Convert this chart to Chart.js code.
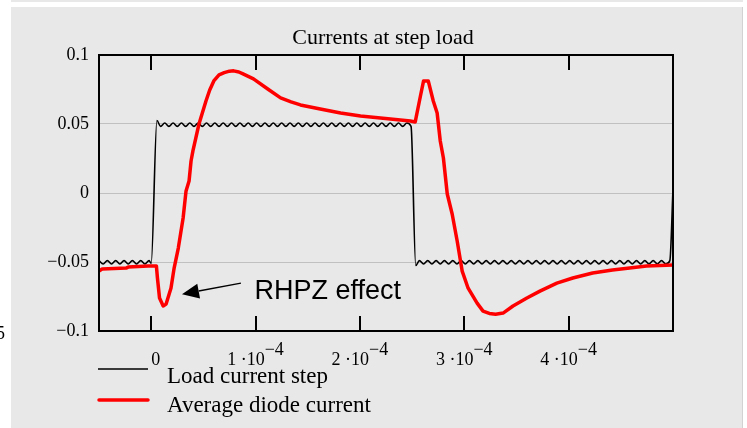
<!DOCTYPE html>
<html>
<head>
<meta charset="utf-8">
<script src="https://cdn.jsdelivr.net/npm/chart.js@4"></script>
<style>
  html, body { margin: 0; padding: 0; background: #fff; }
  canvas { display: block; }
</style>
</head>
<body>
<canvas id="myChart" width="747" height="428"></canvas>
<script>
// time axis in microseconds, currents in amperes
const loadTime = [
  -50, -46, -42, -38, -34, -30, -26, -22, -18, -14, -10, -6, -2, 0,
  5.5,
  9, 13, 17, 21, 25, 29, 33, 37, 41, 45,
  49, 53, 57, 61, 65, 69, 73, 77, 81, 85,
  89, 93, 97, 101, 105, 109, 113, 117, 121, 125,
  129, 133, 137, 141, 145, 149, 153, 157, 161, 165,
  169, 173, 177, 181, 185, 189, 193, 197, 201, 205,
  209, 213, 217, 221, 225, 229, 233, 237, 241, 245,
  249,
  253.5,
  257, 261, 265, 269, 273, 277, 281, 285, 289, 293,
  297, 301, 305, 309, 313, 317, 321, 325, 329, 333,
  337, 341, 345, 349, 353, 357, 361, 365, 369, 373,
  377, 381, 385, 389, 393, 397, 401, 405, 409, 413,
  417, 421, 425, 429, 433, 437, 441, 445, 449, 453,
  457, 461, 465, 469, 473, 477, 481, 485, 489, 493,
  497,
  500,
];
const loadCurrent = [
  -0.0490, -0.0514, -0.0490, -0.0514, -0.0490, -0.0514, -0.0490, -0.0514, -0.0490, -0.0514, -0.0490, -0.0514, -0.0490, -0.0510,
  0.0525,
  0.0483, 0.0507, 0.0483, 0.0507, 0.0483, 0.0507, 0.0483, 0.0507, 0.0483, 0.0507,
  0.0483, 0.0507, 0.0483, 0.0507, 0.0483, 0.0507, 0.0483, 0.0507, 0.0483, 0.0507,
  0.0483, 0.0507, 0.0483, 0.0507, 0.0483, 0.0507, 0.0483, 0.0507, 0.0483, 0.0507,
  0.0483, 0.0507, 0.0483, 0.0507, 0.0483, 0.0507, 0.0483, 0.0507, 0.0483, 0.0507,
  0.0483, 0.0507, 0.0483, 0.0507, 0.0483, 0.0507, 0.0483, 0.0507, 0.0483, 0.0507,
  0.0483, 0.0507, 0.0483, 0.0507, 0.0483, 0.0507, 0.0483, 0.0507, 0.0483, 0.0507,
  0.0483,
  -0.0525,
  -0.0490, -0.0514, -0.0490, -0.0514, -0.0490, -0.0514, -0.0490, -0.0514, -0.0490, -0.0514,
  -0.0490, -0.0514, -0.0490, -0.0514, -0.0490, -0.0514, -0.0490, -0.0514, -0.0490, -0.0514,
  -0.0490, -0.0514, -0.0490, -0.0514, -0.0490, -0.0514, -0.0490, -0.0514, -0.0490, -0.0514,
  -0.0490, -0.0514, -0.0490, -0.0514, -0.0490, -0.0514, -0.0490, -0.0514, -0.0490, -0.0514,
  -0.0490, -0.0514, -0.0490, -0.0514, -0.0490, -0.0514, -0.0490, -0.0514, -0.0490, -0.0514,
  -0.0490, -0.0514, -0.0490, -0.0514, -0.0490, -0.0514, -0.0490, -0.0514, -0.0490, -0.0514,
  -0.0490,
  0.003,
];

const diodeTime = [
  -50, -47, -24, -22, -3, 5, 6, 8, 11.5, 14.3,
  19, 22, 26, 30.6, 33.4, 36.3, 38.2, 40, 45.8, 52.5,
  56, 60, 65, 70, 75, 79, 84, 88, 98, 111.7,
  124, 134, 143, 162, 181.5, 200.6, 219.7, 238.8, 248.3, 253,
  258, 261, 265.5, 270.3, 274, 277, 280, 283.7, 288.4, 293.2,
  298, 303.7, 312.3, 318, 324, 330, 337.2, 346.7, 360, 372.5,
  388.7, 404, 423, 442, 458.5, 474.7, 500,
];
const diodeCurrent = [
  -0.0566, -0.0551, -0.0544, -0.0537, -0.0529, -0.0529, -0.0616, -0.0761, -0.0819, -0.0805,
  -0.0689, -0.0544, -0.0399, -0.0181, 0.0015, 0.0087, 0.0232, 0.0305, 0.0500, 0.0667,
  0.0745, 0.0812, 0.0856, 0.0872, 0.0883, 0.0885, 0.0877, 0.0863, 0.0827, 0.0754,
  0.0689, 0.0660, 0.0638, 0.0609, 0.0580, 0.0558, 0.0544, 0.0529, 0.0522, 0.0515,
  0.0703, 0.0812, 0.0812, 0.0667, 0.0580, 0.0377, 0.0254, -0.0007, -0.0152, -0.0348,
  -0.0566, -0.0690, -0.0798, -0.0856, -0.0873, -0.0878, -0.0870, -0.0819, -0.0761, -0.0711,
  -0.0653, -0.0616, -0.0580, -0.0558, -0.0544, -0.0529, -0.0522,
];

const yTicks = [-0.1, -0.05, 0, 0.05, 0.1];
const yTickLabels = ["\u22120.1", "\u22120.05", "0", "0.05", "0.1"];
const xTicks = [0, 100, 200, 300, 400];
const xTickMantissa = ["0", "1", "2", "3", "4"];

const seriesNames = ["Load current step", "Average diode current"];

const SERIF = '"Liberation Serif", "Times New Roman", serif';
const SANS = '"Liberation Sans", Arial, sans-serif';

function pairs(xs, ys) {
  return xs.map((x, i) => ({ x: x, y: ys[i] }));
}

const decorations = {
  id: "decorations",
  beforeDraw(chart) {
    const c = chart.ctx;
    c.save();
    c.fillStyle = "#ffffff";
    c.fillRect(0, 0, chart.width, chart.height);
    c.fillStyle = "#e8e8e8";
    c.fillRect(11, 0, 732, 2);
    c.fillRect(11, 7, 732, chart.height - 7);
    c.fillStyle = "#d2d2d2";
    c.fillRect(742, 7, 1, chart.height - 7);
    c.restore();
  },
  afterDatasetsDraw(chart) {
    const c = chart.ctx;
    const a = chart.chartArea;
    const xs = chart.scales.x;
    const ys = chart.scales.y;
    c.save();

    // frame
    c.strokeStyle = "#000";
    c.lineWidth = 2;
    c.strokeRect(a.left, a.top, a.right - a.left, a.bottom - a.top);

    // inner tick marks, top and bottom
    c.beginPath();
    xTicks.forEach((t) => {
      const px = Math.round(xs.getPixelForValue(t));
      c.moveTo(px, a.top);
      c.lineTo(px, a.top + 15);
      c.moveTo(px, a.bottom);
      c.lineTo(px, a.bottom - 15);
    });
    c.stroke();

    // x tick labels with powers of ten
    c.fillStyle = "#000";
    c.font = "18px " + SERIF;
    c.textBaseline = "alphabetic";
    c.textAlign = "left";
    xTicks.forEach((t, i) => {
      const px = xs.getPixelForValue(t);
      if (t === 0) {
        c.fillText(xTickMantissa[i], px, 365);
        return;
      }
      const main = xTickMantissa[i] + " \u00b710";
      const exp = "\u22124";
      const w1 = c.measureText(main).width;
      const w2 = c.measureText(exp).width;
      const x0 = px - (w1 + w2) / 2;
      c.fillText(main, x0, 365);
      c.fillText(exp, x0 + w1, 355);
    });

    // clipped label at the left edge
    c.textAlign = "right";
    c.fillText("5", 5, 339);

    // title
    c.textAlign = "center";
    c.font = "22px " + SERIF;
    c.fillText("Currents at step load", (a.left + a.right) / 2 - 3, 44);

    // legend
    c.lineCap = "butt";
    c.strokeStyle = "#000";
    c.lineWidth = 1.6;
    c.beginPath();
    c.moveTo(98, 369);
    c.lineTo(148, 369);
    c.stroke();
    c.strokeStyle = "#ff0000";
    c.lineWidth = 3.5;
    c.lineCap = "round";
    c.beginPath();
    c.moveTo(99, 400);
    c.lineTo(148, 400);
    c.stroke();
    c.textAlign = "left";
    c.font = "23px " + SERIF;
    c.fillText(seriesNames[0], 167, 383);
    c.fillText(seriesNames[1], 167, 412);

    // RHPZ annotation
    const tipX = xs.getPixelForValue(29.5);
    const tipY = ys.getPixelForValue(-0.0733);
    const tailX = xs.getPixelForValue(86);
    const tailY = ys.getPixelForValue(-0.0653);
    const ang = Math.atan2(tipY - tailY, tipX - tailX);
    const headLen = 17;
    const headHalf = 7.5;
    const bx = tipX - headLen * Math.cos(ang);
    const by = tipY - headLen * Math.sin(ang);
    c.strokeStyle = "#000";
    c.lineWidth = 1.5;
    c.lineCap = "butt";
    c.beginPath();
    c.moveTo(tailX, tailY);
    c.lineTo(bx, by);
    c.stroke();
    c.fillStyle = "#000";
    c.beginPath();
    c.moveTo(tipX, tipY);
    c.lineTo(bx + headHalf * Math.sin(ang), by - headHalf * Math.cos(ang));
    c.lineTo(bx - headHalf * Math.sin(ang), by + headHalf * Math.cos(ang));
    c.closePath();
    c.fill();

    c.font = "27px " + SANS;
    c.fillText("RHPZ effect", xs.getPixelForValue(99), ys.getPixelForValue(-0.0767));

    c.restore();
  },
};

const ctx = document.getElementById("myChart");

new Chart(ctx, {
  type: "line",
  data: {
    datasets: [
      {
        label: seriesNames[0],
        data: pairs(loadTime, loadCurrent),
        borderColor: "#000000",
        borderWidth: 1.6,
        pointRadius: 0,
        tension: 0.4,
        cubicInterpolationMode: "monotone",
        order: 2,
      },
      {
        label: seriesNames[1],
        data: pairs(diodeTime, diodeCurrent),
        borderColor: "#ff0000",
        borderWidth: 3.5,
        borderJoinStyle: "round",
        borderCapStyle: "round",
        pointRadius: 0,
        tension: 0,
        order: 1,
      },
    ],
  },
  options: {
    responsive: false,
    animation: false,
    devicePixelRatio: 1,
    layout: {
      padding: { left: 0, top: 55, right: 74, bottom: 0 },
    },
    scales: {
      x: {
        type: "linear",
        min: -50,
        max: 500,
        grid: { display: false },
        border: { display: false },
        ticks: { display: false },
        afterFit(scale) {
          scale.height = 97;
        },
      },
      y: {
        min: -0.1,
        max: 0.1,
        afterBuildTicks(scale) {
          scale.ticks = yTicks.map((v) => ({ value: v }));
        },
        ticks: {
          padding: 10,
          color: "#000",
          font: { family: SERIF, size: 18 },
          callback: (v, i) => yTickLabels[i],
        },
        grid: {
          drawTicks: false,
          lineWidth: 1,
          color: (c) =>
            c.tick && Math.abs(c.tick.value) < 0.09 ? "#c0c0c0" : "rgba(0,0,0,0)",
        },
        border: { display: false },
        afterFit(scale) {
          scale.width = 99;
        },
      },
    },
    plugins: {
      legend: { display: false },
      title: { display: false },
      tooltip: { enabled: false },
    },
  },
  plugins: [decorations],
});
</script>
</body>
</html>
